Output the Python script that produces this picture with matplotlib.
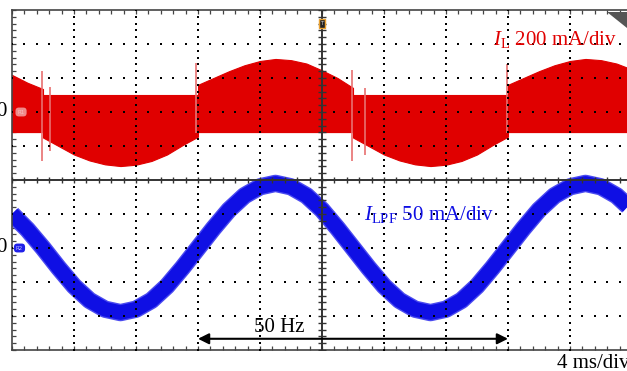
import numpy as np
import matplotlib.pyplot as plt
from matplotlib.patches import Polygon

plt.rcParams['font.family'] = ['Liberation Serif', 'DejaVu Serif']
plt.rcParams['mathtext.fontset'] = 'custom'
plt.rcParams['mathtext.rm'] = 'Liberation Serif'
plt.rcParams['mathtext.it'] = 'Liberation Serif:italic'

# ---------------------------------------------------------------
# scope settings
t_per_div = 4.0        # ms/div
il_per_div = 200.0     # mA/div  (channel 1, red)
ilpf_per_div = 50.0    # mA/div  (channel 2, blue)
il_ground = 2.0        # divisions above centre
ilpf_ground = -2.0     # divisions below centre

# ---------------------------------------------------------------
# I_L : envelope of the switching ripple band (mA)
red_t = [0, 1, 2, 2, 3, 4, 5, 6, 7, 8, 9, 10, 11, 12, 12,
         13, 14, 15, 16, 17, 18, 19, 20, 21, 22, 22,
         23, 24, 25, 26, 27, 28, 29, 30, 31, 32, 32,
         33, 34, 35, 36, 37, 38, 39, 40]
red_hi = [218, 172, 135, 100, 100, 100, 100, 100, 100, 100, 100, 100, 100, 100, 160,
          200, 240, 275, 300, 312, 305, 285, 245, 200, 142, 100,
          100, 100, 100, 100, 100, 100, 100, 100, 100, 100, 160,
          200, 240, 275, 300, 312, 305, 285, 250]
red_lo = [-118, -118, -118, -150, -200, -250, -285, -308, -318, -310, -288, -250, -195, -145, -118,
          -118, -118, -118, -118, -118, -118, -118, -118, -118, -118, -150,
          -200, -250, -285, -308, -318, -310, -288, -250, -195, -145, -118,
          -118, -118, -118, -118, -118, -118, -118, -118]

# switching glitches at the zero crossings (mA)
spike_t = [1.95, 2.45, 11.85, 21.95, 22.8, 31.95]
spike_hi = [240, 150, 290, 250, 140, 280]
spike_lo = [-290, -230, -125, -290, -250, -125]

# I_LPF : low-pass filtered current (mA), one sample per ms
blue_t = list(range(0, 41))
blue_i = [50, 27, 0, -29, -56, -77, -90, -95, -90, -77,
          -56, -29, 0, 29, 56, 77, 90, 95, 90, 77,
          56, 29, 0, -29, -56, -77, -90, -95, -90, -77,
          -56, -29, 0, 29, 56, 77, 90, 95, 90, 77, 56]

# ---------------------------------------------------------------
W, H = 627, 371
fig = plt.figure(figsize=(W / 100, H / 100), dpi=100)
fig.patch.set_facecolor('white')
# screen: 10 x 10 divisions, right edge falls off the picture
x0, y_top, y_bot, divw = 12, 10, 350, 62
ax = fig.add_axes([x0 / W, (H - y_bot) / H, 10 * divw / W, (y_bot - y_top) / H])
ax.set_xlim(0, 10 * t_per_div)
ax.set_ylim(-5, 5)

red = '#e00000'
blue = '#0f0fe4'

# red band
rt = np.array(red_t)
ax.fill_between(rt, il_ground + np.array(red_hi) / il_per_div,
                il_ground + np.array(red_lo) / il_per_div,
                color=red, lw=0.8, zorder=2)
ax.vlines(spike_t, il_ground + np.array(spike_lo) / il_per_div,
          il_ground + np.array(spike_hi) / il_per_div,
          color='#e87070', lw=1.2, zorder=2)

# blue trace
by = ilpf_ground + np.array(blue_i) / ilpf_per_div
ax.plot(blue_t, by, color='#4a4af0', lw=12.5, solid_capstyle='butt', zorder=2)
ax.plot(blue_t, by, color=blue, lw=10.5, solid_capstyle='butt', zorder=2)

# dotted graticule
fine_t = np.arange(0, 40.01, t_per_div / 5)
fine_y = np.arange(-5, 5.01, 0.2)
for k in range(1, 10):
    if k == 5:
        continue
    ax.plot(np.full_like(fine_y, k * t_per_div), fine_y, ls='none', marker='s',
            ms=1.7, color='black', mew=0, zorder=3)
for k in range(-4, 5):
    if k == 0:
        continue
    ax.plot(fine_t, np.full_like(fine_t, k), ls='none', marker='s',
            ms=1.7, color='black', mew=0, zorder=3)

# centre cross with ticks
cc = '#333333'
ax.axhline(0, color=cc, lw=1.4, zorder=3)
ax.axvline(5 * t_per_div, color=cc, lw=1.4, zorder=3)
ax.plot(fine_t, np.zeros_like(fine_t), ls='none', marker='|', ms=5, mew=1.0, color=cc, zorder=3)
ax.plot(np.full_like(fine_y, 5 * t_per_div), fine_y, ls='none', marker='_', ms=6, mew=1.0, color=cc, zorder=3)

# frame
for s in ax.spines.values():
    s.set_color('#444444')
    s.set_linewidth(1.2)
ax.set_xticks(fine_t)
ax.set_yticks(fine_y)
ax.tick_params(direction='in', length=3, width=0.9, color='#444444',
               top=True, bottom=True, left=True, right=False,
               labelbottom=False, labelleft=False)
ax.set_facecolor('white')

# channel ground markers
ax.text(0.35, il_ground, 'R1', fontsize=4, color='#f4c0c0', va='center', ha='left',
        family='DejaVu Sans', zorder=4,
        bbox=dict(boxstyle='round,pad=0.35,rounding_size=0.6', fc='#f08a8a', ec='none'))
ax.text(0.25, ilpf_ground, 'R2', fontsize=4, color='#c0c0ff', va='center', ha='left',
        family='DejaVu Sans', zorder=4,
        bbox=dict(boxstyle='round,pad=0.35,rounding_size=0.6', fc='#2020e8', ec='none'))

# trigger marker
ax.text(5 * t_per_div, 4.6, 'T', fontsize=4, color='#d0d0d0', ha='center', va='center',
        family='DejaVu Sans', zorder=5,
        bbox=dict(boxstyle='square,pad=0.3', fc='#222222', ec='#e8a030', lw=1))

# labels
fig.text(493 / W, 1 - 45 / H, r'$I_{\mathrm{L}}$ 200 mA/div', color=red, fontsize=15,
         ha='left', va='baseline')
fig.text(364 / W, 1 - 220 / H, r'$I_{\mathrm{LPF}}$ 50 mA/div', color=blue, fontsize=15,
         ha='left', va='baseline')
fig.text(279 / W, 1 - 332 / H, '50 Hz', color='black', fontsize=15, ha='center', va='baseline')
fig.text(557 / W, 1 - 368 / H, '4 ms/div', color='black', fontsize=15, ha='left', va='baseline')
fig.text(7 / W, 1 - 112 / H, '0', color='black', fontsize=15, ha='right', va='center')
fig.text(7 / W, 1 - 248 / H, '0', color='black', fontsize=15, ha='right', va='center')

# 50 Hz period arrow (one period = 5 div)
ax.annotate('', xy=(12, -4.67), xytext=(32, -4.67),
            arrowprops=dict(arrowstyle='<|-|>', color='black', lw=1.5,
                            mutation_scale=16, shrinkA=0, shrinkB=0), zorder=5)

# grey corner flag, top right
fig.patches.append(Polygon([[607 / W, 1 - 12 / H], [627 / W, 1 - 12 / H], [627 / W, 1 - 28 / H]],
                           closed=True, transform=fig.transFigure, fc='#555555', ec='none'))

fig.savefig('out.png', dpi=100)
